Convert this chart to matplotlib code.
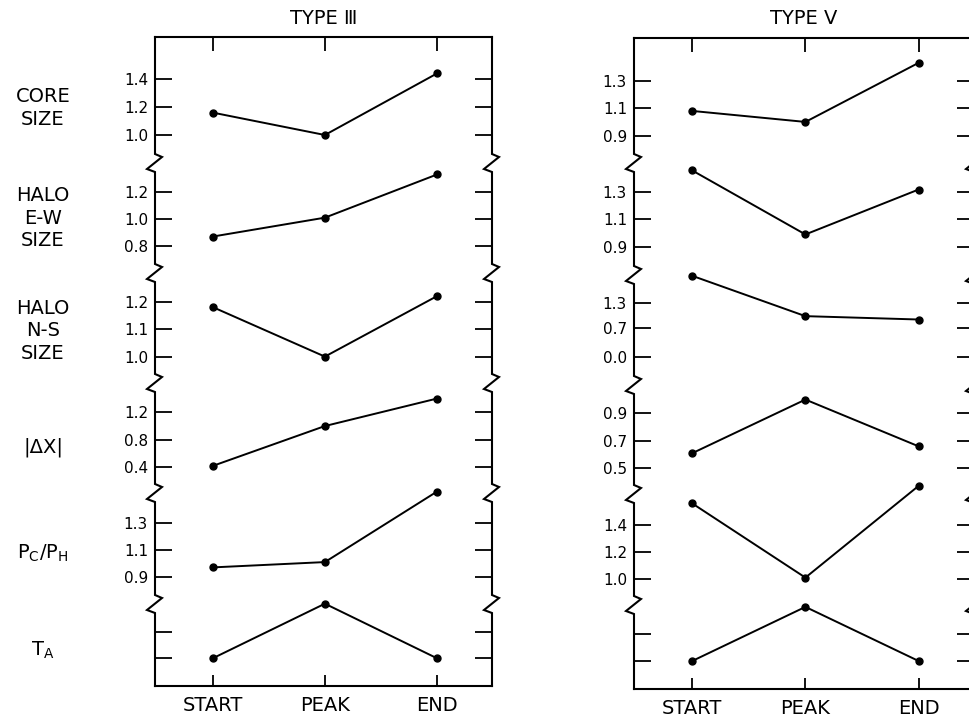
import matplotlib
matplotlib.use("Agg")
import matplotlib.pyplot as plt
from matplotlib.lines import Line2D

W, H = 969, 719
fig = plt.figure(figsize=(9.69, 7.19), dpi=100)
fig.patch.set_facecolor("white")

# ---------------- data ----------------
stages = ["START", "PEAK", "END"]
row_labels = ["CORE\nSIZE", "HALO\nE-W\nSIZE", "HALO\nN-S\nSIZE",
              "|ΔX|", r"$\mathrm{P_C/P_H}$", r"$\mathrm{T_A}$"]
titles = ["TYPE Ⅲ", "TYPE Ⅴ"]

type3_core = [1.16, 1.00, 1.44]
type3_halo_ew = [0.87, 1.01, 1.33]
type3_halo_ns = [1.18, 1.00, 1.22]
type3_dx = [0.42, 1.00, 1.40]
type3_pcph = [0.97, 1.01, 1.54]
type3_ta = [1.0, 3.1, 1.0]

type5_core = [1.08, 1.00, 1.43]
type5_halo_ew = [1.46, 0.99, 1.32]
type5_halo_ns = [1.94, 0.98, 0.90]
type5_dx = [0.61, 1.00, 0.66]
type5_pcph = [1.56, 1.01, 1.69]
type5_ta = [1.0, 3.0, 1.0]

type3_ticks = [[1.4, 1.2, 1.0], [1.2, 1.0, 0.8], [1.2, 1.1, 1.0],
               [1.2, 0.8, 0.4], [1.3, 1.1, 0.9], [2, 1]]
type5_ticks = [[1.3, 1.1, 0.9], [1.3, 1.1, 0.9], [1.3, 0.7, 0.0],
               [0.9, 0.7, 0.5], [1.4, 1.2, 1.0], [2, 1]]
type3_ticklabels = [["1.4", "1.2", "1.0"], ["1.2", "1.0", "0.8"], ["1.2", "1.1", "1.0"],
                    ["1.2", "0.8", "0.4"], ["1.3", "1.1", "0.9"], ["", ""]]
type5_ticklabels = [["1.3", "1.1", "0.9"], ["1.3", "1.1", "0.9"], ["1.3", "0.7", "0.0"],
                    ["0.9", "0.7", "0.5"], ["1.4", "1.2", "1.0"], ["", ""]]

type3_series = [type3_core, type3_halo_ew, type3_halo_ns, type3_dx, type3_pcph, type3_ta]
type5_series = [type5_core, type5_halo_ew, type5_halo_ns, type5_dx, type5_pcph, type5_ta]

# ---------------- layout (pixels) ----------------
type3_ylims = [(0.80, 1.70), (0.60, 1.415), (0.904, 1.304),
               (0.026, 1.626), (0.695, 1.529), (-0.065, 3.088)]
type5_ylims = [(0.701, 1.611), (0.692, 1.515), (-0.66, 1.96),
               (0.313, 1.106), (0.807, 1.63), (-0.037, 3.07)]

panels = [
    dict(x0=155, x1=492, bounds=[37, 163, 273, 383, 493, 604, 686],
         series=type3_series, ticks=type3_ticks, tl=type3_ticklabels,
         ylims=type3_ylims, title=titles[0]),
    dict(x0=634, x1=974, bounds=[38, 163, 275, 385, 494, 605, 689],
         series=type5_series, ticks=type5_ticks, tl=type5_ticklabels,
         ylims=type5_ylims, title=titles[1]),
]

XLIM = (-0.515, 2.49)
LW_FRAME = 1.5


def fxy(px, py):
    return px / W, 1 - py / H


def spine_with_breaks(xs, top, bottom, breaks):
    pts = [(xs, top)]
    for yc in breaks:
        pts += [(xs, yc - 9), (xs + 7, yc - 6), (xs - 8, yc + 6), (xs, yc + 9)]
    pts.append((xs, bottom))
    xf = [p[0] / W for p in pts]
    yf = [1 - p[1] / H for p in pts]
    fig.add_artist(Line2D(xf, yf, transform=fig.transFigure, color="black",
                          lw=LW_FRAME, solid_joinstyle="miter"))


xpos = list(range(len(stages)))

for p in panels:
    b = p["bounds"]
    n = len(b) - 1
    for i in range(n):
        yt, yb = b[i], b[i + 1]
        l, bot = fxy(p["x0"], yb)
        ax = fig.add_axes([l, bot, (p["x1"] - p["x0"]) / W, (yb - yt) / H])
        ax.patch.set_alpha(0)
        ax.set_xlim(*XLIM)
        ax.set_ylim(*p["ylims"][i])
        ax.plot(xpos, p["series"][i], color="black", lw=1.4, marker="o",
                markersize=5, clip_on=False, zorder=3)
        for s in ["left", "right"]:
            ax.spines[s].set_visible(False)
        ax.spines["top"].set_visible(i == 0)
        ax.spines["bottom"].set_visible(i == n - 1)
        for s in ["top", "bottom"]:
            ax.spines[s].set_linewidth(LW_FRAME)
        ax.set_yticks(p["ticks"][i])
        ax.set_yticklabels(p["tl"][i])
        ax.tick_params(axis="y", which="both", direction="in", left=True, right=True,
                       length=12, width=1.3, pad=5, labelsize=11)
        ax.set_xticks(xpos)
        if i == n - 1:
            ax.set_xticklabels(stages)
            ax.tick_params(axis="x", direction="in", bottom=True, top=False,
                           length=8, width=1.3, pad=7, labelsize=14)
        elif i == 0:
            ax.set_xticklabels([])
            ax.tick_params(axis="x", direction="in", bottom=False, top=True,
                           labelbottom=False, length=10, width=1.3)
        else:
            ax.tick_params(axis="x", bottom=False, top=False, labelbottom=False)
    # frame sides with break marks
    spine_with_breaks(p["x0"], b[0], b[-1], b[1:-1])
    spine_with_breaks(p["x1"], b[0], b[-1], b[1:-1])
    # title
    tx, ty = fxy((p["x0"] + p["x1"]) / 2, 18)
    fig.text(tx, ty, p["title"], ha="center", va="center", fontsize=14)

# row labels
row_label_y = [108, 218, 331, 447, 553, 650]
for lab, y in zip(row_labels, row_label_y):
    tx, ty = fxy(43, y)
    fig.text(tx, ty, lab, ha="center", va="center", fontsize=14,
             multialignment="center", linespacing=1.25)

fig.savefig("out.png", dpi=100, facecolor="white")
